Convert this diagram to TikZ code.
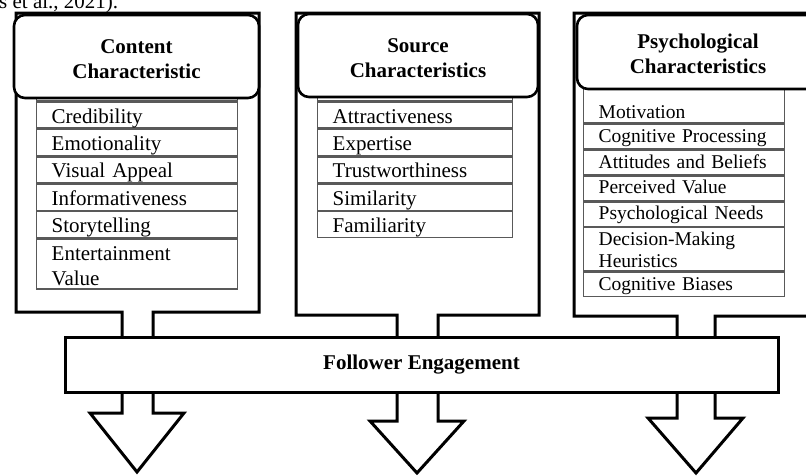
\documentclass[tikz,border=0pt]{standalone}
\usepackage{fontspec}
\setmainfont{Liberation Serif}
\usetikzlibrary{positioning}

\definecolor{rowgray}{gray}{0.35}

\begin{document}
\begin{tikzpicture}[
  x=1pt, y=-1pt,
  blockarrow/.style={draw,line width=3pt,fill=white,line join=miter},
  header/.style    ={draw,line width=2.6pt,fill=white,rounded corners=11pt,align=center,
                     text width=200pt,text height=13pt,text depth=20pt,
                     inner sep=0pt,font=\fontsize{21}{25}\selectfont\bfseries},
  itemrow/.style   ={draw=rowgray,line width=1.4pt,fill=white,anchor=north west,
                     inner xsep=15pt,inner ysep=0pt,text height=21pt,text depth=5pt,
                     font=\fontsize{21}{25}\selectfont},
  lrow/.style      ={itemrow,text width=171pt},
  mrow/.style      ={itemrow,text width=165pt},
  prow/.style      ={itemrow,text width=171pt,text height=18pt,text depth=6.5pt,
                     font=\fontsize{19.5}{22}\selectfont},
  engage/.style    ={draw,line width=3pt,fill=white,minimum width=713pt,minimum height=55pt,
                     inner sep=0pt,font=\fontsize{21}{25}\selectfont\bfseries},
]

\useasboundingbox (0,0) rectangle (806,475);
\clip (0,0) rectangle (806,475);

%% ======================================================
%% Caption remnant (cut off at the top)
%% ======================================================
\node[anchor=base west,inner sep=0pt,font=\fontsize{21}{25}\selectfont] (cite)
     at (-1,8) {s et al., 2021).};

%% ======================================================
%% Block arrows: one per column, stem runs behind the bar
%% ======================================================
\draw[blockarrow] (16,13) -- (259,13) -- (259,312) -- (153,312) -- (153,413)
     -- (184,413) -- (137,472) -- (90,413) -- (122,413) -- (122,312) -- (16,312) -- cycle;
\draw[blockarrow] (296,13) -- (539,13) -- (539,315) -- (438,315) -- (438,421)
     -- (464,421) -- (417,473) -- (370,421) -- (397,421) -- (397,315) -- (296,315) -- cycle;
\draw[blockarrow] (574,13) -- (830,13) -- (830,316) -- (715,316) -- (715,418)
     -- (743,418) -- (696,473) -- (648,418) -- (677,418) -- (677,316) -- (574,316) -- cycle;

% --- common bar ---
\node[engage] (engage) at (421.5,364.5) {Follower Engagement};

%% ======================================================
%% Lists
%% ======================================================

% --- Content (left) ---
\node[lrow] (c0) at (36,74) {};
\node[lrow,below=0pt of c0] (c1) {Credibility};
\node[lrow,below=0pt of c1] (c2) {Emotionality};
\node[lrow,below=0pt of c2] (c3) {Visual Appeal};
\node[lrow,below=0pt of c3] (c4) {Informativeness};
\node[lrow,below=0pt of c4] (c5) {Storytelling};
\node[lrow,below=0pt of c5,text depth=29pt] (c6) {Entertainment\\Value};

% --- Source (middle) ---
\node[mrow] (s0) at (317,74) {};
\node[mrow,below=0pt of s0] (s1) {Attractiveness};
\node[mrow,below=0pt of s1] (s2) {Expertise};
\node[mrow,below=0pt of s2] (s3) {Trustworthiness};
\node[mrow,below=0pt of s3] (s4) {Similarity};
\node[mrow,below=0pt of s4] (s5) {Familiarity};

% --- Psychological (right) ---
\node[prow,text height=34pt,text depth=4pt] (p1) at (583,84) {Motivation};
\node[prow,below=0pt of p1] (p2) {Cognitive Processing};
\node[prow,below=0pt of p2] (p3) {Attitudes and Beliefs};
\node[prow,below=0pt of p3] (p4) {Perceived Value};
\node[prow,below=0pt of p4] (p5) {Psychological Needs};
\node[prow,below=0pt of p5,text depth=25pt] (p6) {Decision-Making\\Heuristics};
\node[prow,below=0pt of p6] (p7) {Cognitive Biases};

%% ======================================================
%% Headers (on top of the lists)
%% ======================================================
\node[header,minimum width=245pt,minimum height=83pt] (hcont) at (136.5,56.5)
     {Content\\Characteristic};
\node[header,minimum width=240pt,minimum height=83pt] (hsrc)  at (418,55.5)
     {Source\\Characteristics};
\node[header,minimum width=242pt,minimum height=74pt,text height=12pt] (hpsy) at (698,52)
     {Psychological\\Characteristics};

\end{tikzpicture}
\end{document}
